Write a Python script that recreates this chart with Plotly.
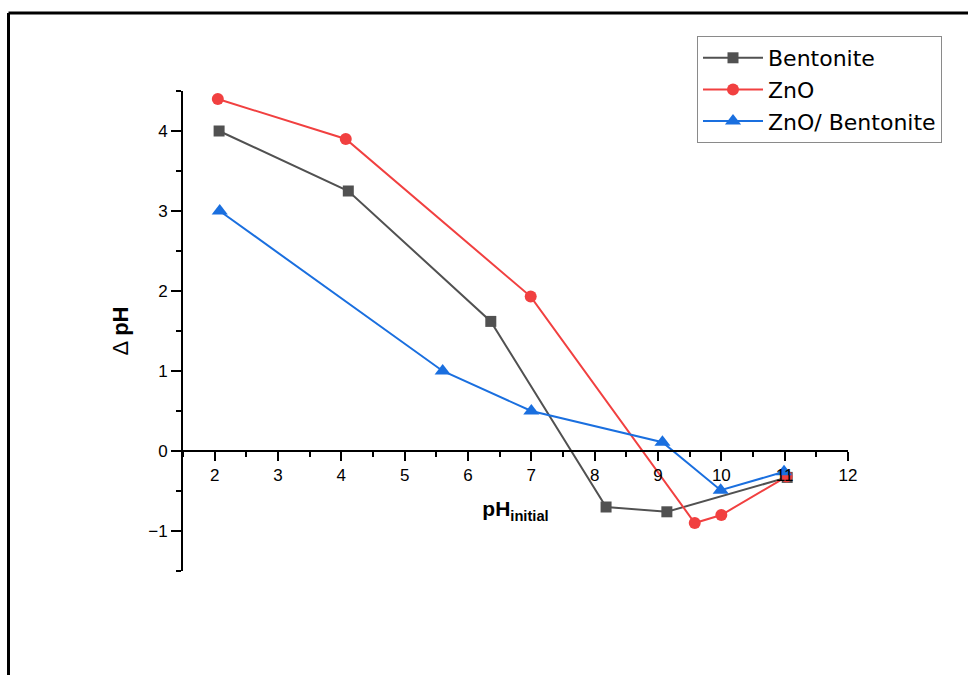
import plotly.graph_objects as go

# Point-of-zero-charge data: change in pH vs initial pH
bent_x = [2.07, 4.11, 6.36, 8.18, 9.14, 11.04]
bent_y = [4.0, 3.25, 1.62, -0.70, -0.76, -0.33]

zno_x = [2.05, 4.07, 6.99, 9.58, 10.0, 11.03]
zno_y = [4.4, 3.9, 1.93, -0.90, -0.80, -0.32]

comp_x = [2.08, 5.60, 7.0, 9.07, 9.99, 10.99]
comp_y = [3.0, 1.0, 0.5, 0.11, -0.49, -0.26]

series_names = ["Bentonite", "ZnO", "ZnO/ Bentonite"]
colors = ["#515151", "#F14040", "#1A6FDF"]
symbols = ["square", "circle", "triangle-up"]
marker_sizes = [11, 12, 14]

x_ticks = list(range(2, 13))
y_ticks = [-1, 0, 1, 2, 3, 4]

FONT = "Liberation Sans, Arial, sans-serif"

fig = go.Figure()
for name, xs, ys, c, s, ms in zip(series_names, [bent_x, zno_x, comp_x],
                                  [bent_y, zno_y, comp_y], colors, symbols, marker_sizes):
    fig.add_trace(go.Scatter(
        x=xs, y=ys, mode="lines+markers", name=name,
        line=dict(color=c, width=2),
        marker=dict(symbol=s, size=ms, color=c, line=dict(width=0)),
    ))

L, R, T, B = 183, 120, 91, 104
W, H = 968, 675
pw, ph = W - L - R, H - T - B


def px_x(p):
    return (p - L) / pw


def px_y(p):
    return (H - B - p) / ph


fig.update_layout(
    width=W, height=H,
    margin=dict(l=L, r=R, t=T, b=B),
    paper_bgcolor="white", plot_bgcolor="white",
    font=dict(family=FONT, size=17, color="black"),
    showlegend=True,
    legend=dict(
        x=px_x(697), y=px_y(36), xanchor="left", yanchor="top",
        bgcolor="white", bordercolor="#8a8a8a", borderwidth=1,
        font=dict(family="DejaVu Sans, sans-serif", size=22, color="black"),
        itemwidth=60, tracegroupgap=0,
    ),
    xaxis=dict(
        range=[1.5, 12], anchor="free", position=0.25,
        tickvals=x_ticks, ticks="outside", ticklen=9, tickwidth=2,
        tickcolor="black", showline=True, linecolor="black", linewidth=2,
        minor=dict(dtick=0.5, tick0=1.5, ticks="outside", ticklen=5,
                   tickwidth=2, tickcolor="black"),
        showgrid=False, zeroline=False,
        tickfont=dict(size=17),
        title=dict(text="<b>pH<sub>initial</sub></b>", font=dict(size=21),
                   standoff=16),
    ),
    yaxis=dict(
        range=[-1.5, 4.5], tickvals=y_ticks, ticks="outside", ticklen=10,
        tickwidth=2, tickcolor="black", showline=True, linecolor="black",
        linewidth=2,
        minor=dict(dtick=0.5, tick0=-1.5, ticks="outside", ticklen=5,
                   tickwidth=2, tickcolor="black"),
        showgrid=False, zeroline=False,
        tickfont=dict(size=17),
        title=dict(text="Δ <b>pH</b>", font=dict(size=22), standoff=14),
    ),
)

# Open frame along the top and left edges
frame = dict(type="line", xref="paper", yref="paper",
             line=dict(color="black", width=3))
fig.add_shape(**frame, x0=px_x(8.5), y0=px_y(13), x1=px_x(970), y1=px_y(13))
fig.add_shape(**frame, x0=px_x(8.5), y0=px_y(13), x1=px_x(8.5), y1=px_y(680))

fig.write_html("out.html")
